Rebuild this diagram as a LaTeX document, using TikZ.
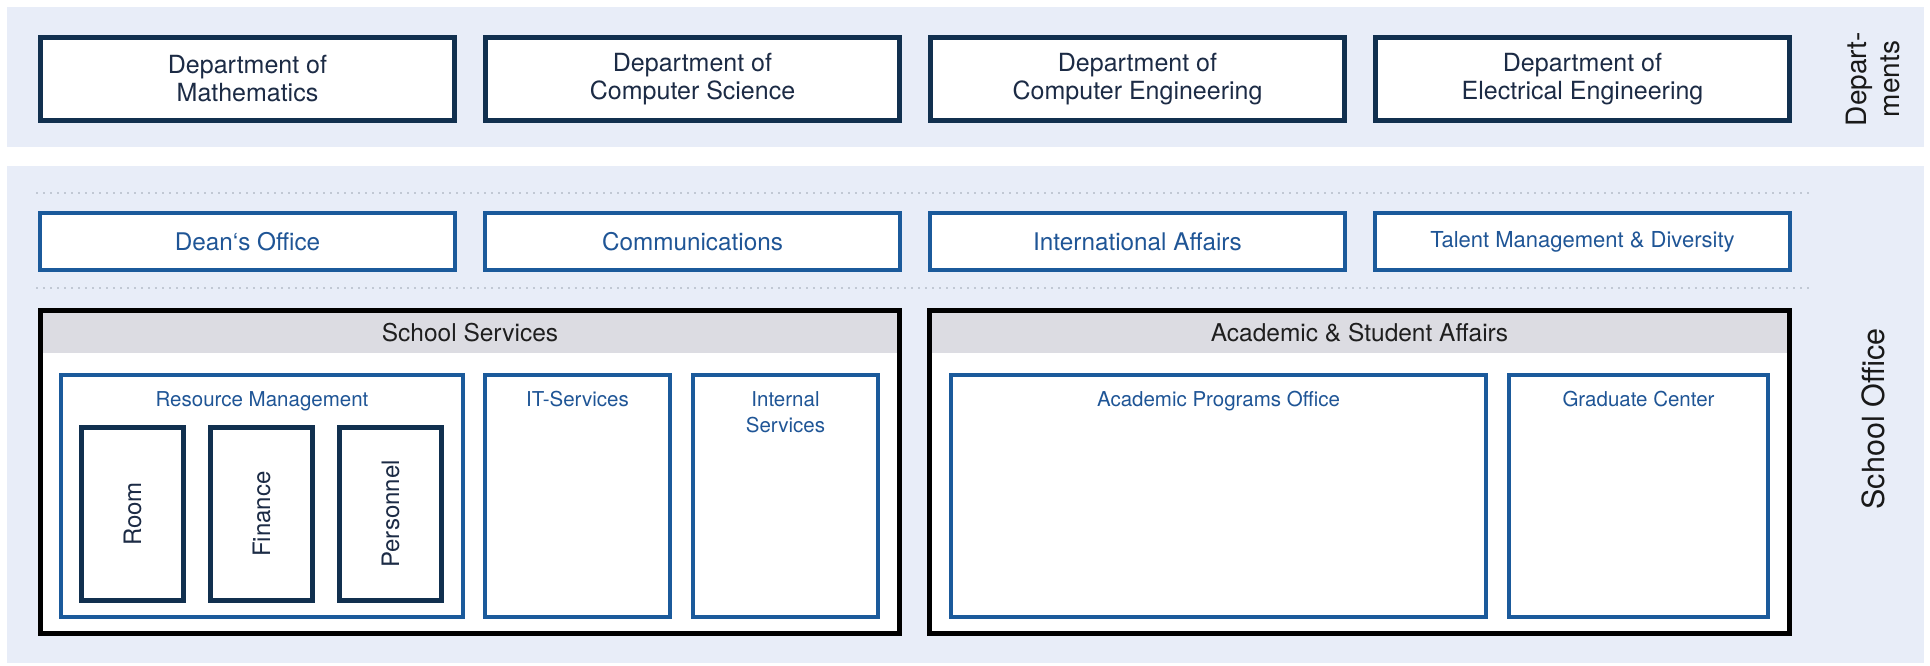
\documentclass[tikz,border=0pt]{standalone}
\usepackage{fontspec}
\setmainfont{TeX Gyre Heros}
\definecolor{bandc}{HTML}{E8EDF8}
\definecolor{navy}{HTML}{11304F}
\definecolor{navytext}{HTML}{1C2B45}
\definecolor{bluec}{HTML}{1B5A9B}
\definecolor{bluetext}{HTML}{1F5596}
\definecolor{headc}{HTML}{DCDCE2}
\definecolor{dotc}{HTML}{9AA3B0}
\tikzset{
  deptbox/.style={draw=navy, line width=5pt, fill=white, minimum width=414pt, minimum height=83pt,
    text=navytext, font=\fontsize{25}{28}\selectfont, align=center, inner sep=0pt},
  midbox/.style={draw=bluec, line width=4pt, fill=white, minimum width=415pt, minimum height=57pt,
    text=bluetext, font=\fontsize{24.3}{28}\selectfont, inner sep=0pt},
  groupbox/.style={draw=black, line width=5pt, fill=white, minimum height=323pt, inner sep=0pt},
  headbox/.style={fill=headc, draw=none, minimum height=40pt, inner sep=0pt,
    text=black!88, font=\fontsize{24.5}{28}\selectfont},
  unitbox/.style={draw=bluec, line width=4pt, fill=white, minimum height=242pt, inner sep=0pt},
  unitlabel/.style={anchor=north, inner sep=0pt, text=bluetext, align=center,
    font=\fontsize{20.5}{26}\selectfont},
  subbox/.style={draw=navy, line width=5pt, fill=white, minimum width=102pt, minimum height=173pt,
    inner sep=0pt},
  sublabel/.style={rotate=90, text=navytext, font=\fontsize{24}{28}\selectfont, inner sep=0pt},
  sidelabel/.style={rotate=90, text=black!90, align=center, inner sep=0pt},
  dotline/.style={dotc, line width=1.7pt, line cap=round, dash pattern=on 0pt off 7pt}
}
\begin{document}
\begin{tikzpicture}[x=1pt,y=-1pt]
\useasboundingbox (0,0) rectangle (1930,665);
% bands
\fill[bandc] (7,7) rectangle (1924,147);
\fill[bandc] (7,166) rectangle (1924,663);

% departments
\node[deptbox] (d1) at (247.5,79) {Department of\\Mathematics};
\node[deptbox] (d2) at (692.5,79) {Department of\\Computer Science};
\node[deptbox] (d3) at (1137.5,79) {Department of\\Computer Engineering};
\node[deptbox] (d4) at (1582.5,79) {Department of\\Electrical Engineering};
\node[sidelabel, font=\fontsize{28}{33}\selectfont] (deps) at (1873,79) {Depart-\\ments};

% dotted separators
\coordinate (l1a) at (37,193); \coordinate (l1b) at (1813,193);
\coordinate (l2a) at (37,288); \coordinate (l2b) at (1813,288);
\draw[dotline] (l1a) -- (l1b);
\draw[dotline] (l2a) -- (l2b);

% staff units
\node[midbox] (m1) at (247.5,241.5) {Dean‘s Office};
\node[midbox] (m2) at (692.5,241.5) {Communications};
\node[midbox] (m3) at (1137.5,241.5) {International Affairs};
\node[midbox, font=\fontsize{22}{26}\selectfont] (m4) at (1582.5,241.5) {Talent Management \& Diversity};

% school services
\node[groupbox, minimum width=859pt] (ss) at (470,472) {};
\node[headbox, minimum width=854pt] (ssh) at (470,333) {School Services};
\node[unitbox, minimum width=402pt] (rm) at (262,496) {};
\node[unitlabel] (rml) at (262,391) {Resource Management};
\node[unitbox, minimum width=185pt] (it) at (577.5,496) {};
\node[unitlabel] (itl) at (577.5,391) {IT-Services};
\node[unitbox, minimum width=185pt] (is) at (785.5,496) {};
\node[unitlabel] (isl) at (785.5,391) {Internal\\Services};
\node[subbox] (room) at (132.5,514) {};
\node[sublabel] at (room.center) {Room};
\node[subbox] (fin) at (261.5,514) {};
\node[sublabel] at (fin.center) {Finance};
\node[subbox] (pers) at (390.5,514) {};
\node[sublabel] at (pers.center) {Personnel};

% academic & student affairs
\node[groupbox, minimum width=860pt] (as) at (1359.5,472) {};
\node[headbox, minimum width=855pt] (ash) at (1359.5,333) {Academic \& Student Affairs};
\node[unitbox, minimum width=535pt] (apo) at (1218.5,496) {};
\node[unitlabel] (apol) at (1218.5,391) {Academic Programs Office};
\node[unitbox, minimum width=259pt] (gc) at (1638.5,496) {};
\node[unitlabel] (gcl) at (1638.5,391) {Graduate Center};

\node[sidelabel, font=\fontsize{30.5}{35}\selectfont] (so) at (1873,419) {School Office};
\end{tikzpicture}
\end{document}
